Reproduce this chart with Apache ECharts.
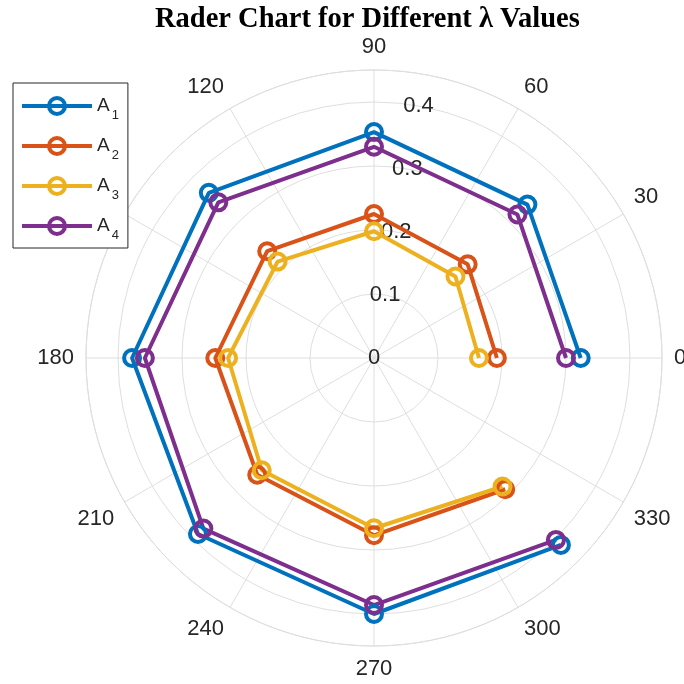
<!DOCTYPE html>
<html><head><meta charset="utf-8">
<script src="https://cdn.jsdelivr.net/npm/echarts@6/dist/echarts.min.js"></script>
<style>html,body{margin:0;background:#fff}#c{width:684px;height:684px}</style>
</head><body><div id="c"></div>
<script>
const angles = [0, 45, 90, 135, 180, 225, 270, 315];
const A1 = [0.323, 0.339, 0.353, 0.365, 0.378, 0.389, 0.400, 0.413];
const A2 = [0.192, 0.207, 0.225, 0.236, 0.248, 0.258, 0.277, 0.290];
const A3 = [0.164, 0.180, 0.198, 0.213, 0.228, 0.248, 0.266, 0.284];
const A4 = [0.300, 0.317, 0.330, 0.344, 0.358, 0.377, 0.386, 0.402];
const seriesNames = ['A1', 'A2', 'A3', 'A4'];
const seriesSubs = ['1', '2', '3', '4'];
const angleTicks = [0, 30, 60, 90, 120, 150, 180, 210, 240, 270, 300, 330];
const radiusTicks = [0, 0.1, 0.2, 0.3, 0.4];

const colors = ['#0072BD', '#D95319', '#EDB120', '#7E2F8E'];
const gridColor = '#dedede';
const textColor = '#262626';
const values = [A1, A2, A3, A4];

const chart = echarts.init(document.getElementById('c'));
const option = {
  animation: false,
  title: {
    text: 'Rader Chart for Different λ Values',
    left: 155, top: 5, padding: 0,
    textStyle: { fontFamily: 'Liberation Serif', fontWeight: 'bold', fontSize: 28.5, color: '#000' }
  },
  legend: {
    orient: 'vertical', left: 13, top: 83,
    padding: [13, 9, 6, 7], itemGap: 14, itemWidth: 70, itemHeight: 20,
    borderColor: '#262626', borderWidth: 1, borderRadius: 0, backgroundColor: '#fff',
    lineStyle: { width: 4 },
    itemStyle: { borderWidth: 4 },
    data: seriesNames,
    formatter: function (name) {
      const i = seriesNames.indexOf(name);
      return '{a|A}{b|' + seriesSubs[i] + '}';
    },
    textStyle: {
      color: textColor,
      rich: {
        a: { fontFamily: 'Liberation Sans', fontSize: 19, lineHeight: 20, color: textColor },
        b: { fontFamily: 'Liberation Sans', fontSize: 13, lineHeight: 32, verticalAlign: 'bottom', color: textColor, padding: [0, 0, 0, 2] }
      }
    }
  },
  polar: [
    { center: [374, 358], radius: 288 },
    { center: [374, 358], radius: 288 }
  ],
  angleAxis: [
    {
      polarIndex: 0, type: 'value', min: 0, max: 360, interval: 30,
      startAngle: 0, clockwise: false,
      axisLine: { lineStyle: { color: gridColor, width: 1 } },
      axisTick: { show: false },
      axisLabel: {
        margin: 12, fontSize: 22, fontFamily: 'Liberation Sans', color: textColor,
        formatter: function (v) { return angleTicks.indexOf(v) >= 0 ? String(v) : ''; }
      },
      splitLine: { show: true, lineStyle: { color: gridColor, width: 1 } }
    },
    {
      polarIndex: 1, type: 'value', min: 0, max: 360, startAngle: 80, clockwise: false, show: false
    }
  ],
  radiusAxis: [
    {
      polarIndex: 0, type: 'value', min: 0, max: 0.45, interval: 0.1,
      axisLine: { show: false }, axisTick: { show: false }, axisLabel: { show: false },
      splitLine: { show: true, lineStyle: { color: gridColor, width: 1 } }
    },
    {
      polarIndex: 1, type: 'value', min: 0, max: 0.45, interval: 0.1,
      axisLine: { show: false }, axisTick: { show: false }, splitLine: { show: false },
      axisLabel: {
        margin: 0, align: 'center', verticalAlign: 'middle', showMaxLabel: false,
        fontSize: 22, fontFamily: 'Liberation Sans', color: textColor,
        formatter: function (v) {
          const k = radiusTicks.findIndex(t => Math.abs(t - v) < 1e-9);
          return k >= 0 ? String(radiusTicks[k]) : '';
        }
      }
    }
  ],
  series: seriesNames.map(function (n, i) {
    return {
      type: 'line', name: n, coordinateSystem: 'polar', polarIndex: 0,
      data: values[i].map(function (r, j) { return [r, angles[j]]; }),
      symbol: 'circle', symbolSize: 16,
      lineStyle: { color: colors[i], width: 4 },
      itemStyle: { color: 'transparent', borderColor: colors[i], borderWidth: 4 },
      emphasis: { disabled: true }
    };
  })
};
chart.setOption(option);
</script>
</body></html>
